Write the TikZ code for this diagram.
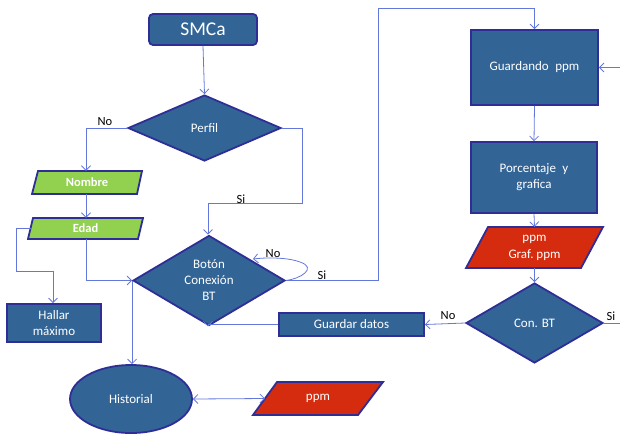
\documentclass[tikz,border=0pt]{standalone}
\usepackage{fontspec}
\setmainfont{Carlito}
\usetikzlibrary{arrows.meta,shapes.geometric}
\definecolor{boxfill}{RGB}{50,100,150}
\definecolor{boxline}{RGB}{46,46,150}
\definecolor{conn}{RGB}{100,120,220}
\definecolor{greenfill}{RGB}{146,208,80}
\definecolor{redfill}{RGB}{213,43,14}
\tikzset{
  box/.style={draw=boxline,line width=1.8pt,fill=boxfill,text=white,font=\fontsize{13}{16}\selectfont,align=center,inner sep=0pt},
  para/.style={draw=boxline,line width=1.8pt},
  ptext/.style={text=white,align=center,inner sep=0pt},
  dia/.style={shape=diamond,draw=boxline,line width=1.8pt,fill=boxfill,text=white,font=\fontsize{13}{16}\selectfont,align=center,inner sep=0pt},
  con/.style={draw=conn,line width=0.8pt,-{Straight Barb[length=4.5pt,width=9pt]}},
  conp/.style={draw=conn,line width=0.8pt},
  lbl/.style={font=\fontsize{12.5}{14}\selectfont,text=black,inner sep=0pt}
}
\begin{document}
\begin{tikzpicture}[x=1pt,y=-1pt]
\useasboundingbox (0,0) rectangle (620,434);
% nodes
\node[box,rounded corners=4pt,minimum width=108pt,minimum height=31pt,font=\fontsize{19.5}{22}\selectfont] (smca) at (203,29.5) {SMCa};
\node[dia,minimum width=153pt,minimum height=66pt] (perfil) at (204.5,128) {Perfil};
\node[dia,minimum width=152pt,minimum height=65pt] (boton) at (209,280.5) {Botón\\Conexión\\BT};
\node[box,minimum width=94pt,minimum height=38pt] (hallar) at (54,323) {Hallar\\máximo};
\node[box,minimum width=145pt,minimum height=23pt] (gdatos) at (351.5,324.5) {Guardar datos};
\node[dia,minimum width=137pt,minimum height=80pt] (conbt) at (534.5,323) {Con. BT};
\node[box,minimum width=127pt,minimum height=75pt] (guardando) at (534.5,67.5) {Guardando\hspace{0.5em}ppm};
\node[box,minimum width=126pt,minimum height=71pt] (porc) at (534,177.5) {Porcentaje\hspace{0.5em}y\\grafica};
\node[shape=ellipse,draw=boxline,line width=1.8pt,fill=boxfill,text=white,font=\fontsize{13}{16}\selectfont,minimum width=122pt,minimum height=68pt,inner sep=0pt] (hist) at (131,399) {Historial};
% parallelograms
\path[para,fill=greenfill] (38,171) -- (142,171) -- (137,194) -- (32,194) -- cycle;
\node[ptext,font=\bfseries\fontsize{12.5}{14}\selectfont,minimum height=23pt] (nombre) at (87,182.5) {Nombre};
\path[para,fill=greenfill] (33,218) -- (143,218) -- (138,239) -- (28,239) -- cycle;
\node[ptext,font=\bfseries\fontsize{12.5}{14}\selectfont,minimum height=21pt] (edad) at (85.5,228.5) {Edad};
\coordinate (edadL) at (30.5,228.5);
\path[para,fill=redfill] (488,227) -- (603,227) -- (581,268) -- (466,268) -- cycle;
\node[ptext,font=\fontsize{13}{17}\selectfont,minimum height=41pt] (ppmg) at (534.5,247.5) {ppm\\Graf.\ ppm};
\path[para,fill=redfill] (277,382) -- (383,382) -- (358,415) -- (253,415) -- cycle;
\node[ptext,font=\fontsize{13}{16}\selectfont] (ppmb) at (318,398.5) {ppm};
\coordinate (ppmbL) at (265,398.5);
% free ends
\coordinate (rightA) at (620,67.5);
\coordinate (rightB) at (620,323);
% connectors
\draw[con] (smca.south) -- (perfil.north);
\draw[con] (perfil.west) -- (86,128) -- (nombre.north -| 86,0);
\node[lbl] (lno1) at (105,122) {No};
\draw[con] (perfil.east) -- (302,128) -- (302,203) -- (208,203) -- (boton.north -| 208,0);
\node[lbl] (lsi1) at (241,199) {Si};
\draw[con] (nombre.south -| 86,0) -- (edad.north -| 86,0);
\draw[con] (edadL) -- (16,228.5) -- (16,271) -- (53,271) -- (hallar.north -| 53,0);
\draw[con] (edad.south -| 86,0) -- (86,280.5) -- (boton.west);
\draw[con] (boton.east) .. controls (300,279) and (318,268) .. (300,262) .. controls (290,258) and (270,257) .. (253,259);
\node[lbl] (lno2) at (273,254) {No};
\draw[con] (boton.east) -- (378,280.5) -- (378,8) -- (534.5,8) -- (guardando.north);
\node[lbl] (lsi2) at (322,275) {Si};
\draw[con] (boton.west) -- (hist.north -| boton.west);
\draw[con] (gdatos.west) -- (208,324.5) -- (boton.south -| 208,0);
\draw[draw=conn,line width=0.8pt,{Straight Barb[length=4.5pt,width=9pt]}-{Straight Barb[length=4.5pt,width=9pt]}] (hist.east) -- (ppmbL);
\draw[con] (rightA) -- (guardando.east);
\draw[con] (guardando.south) -- (porc.north);
\draw[con] (porc.south) -- (ppmg.north);
\draw[con] (ppmg.south) -- (conbt.north);
\draw[con] (conbt.west) -- (gdatos.east);
\node[lbl] (lno3) at (448,316) {No};
\draw[conp] (conbt.east) -- (rightB);
\node[lbl] (lsi3) at (611,316) {Si};
\end{tikzpicture}
\end{document}
